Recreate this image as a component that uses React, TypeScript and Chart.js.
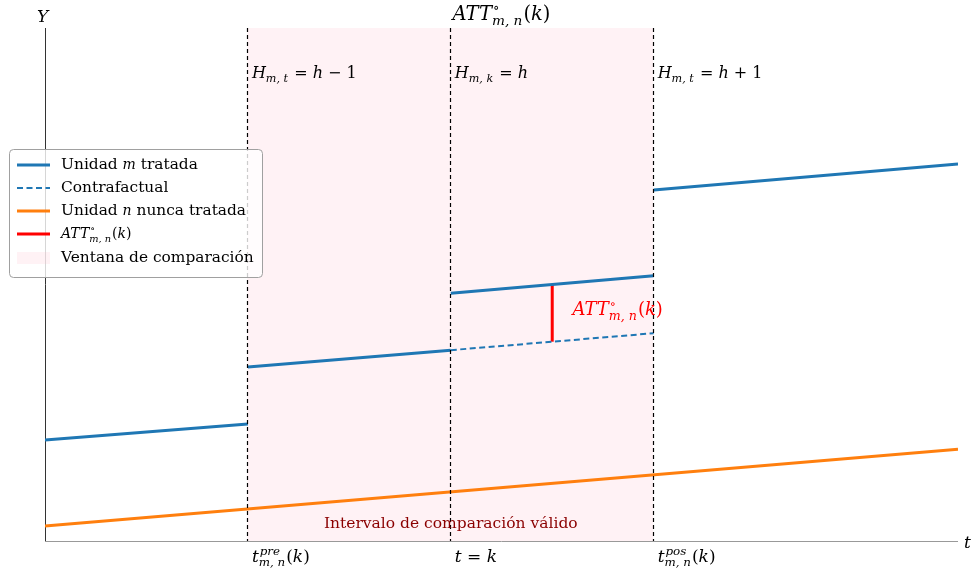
import React, { useEffect, useRef } from 'react';
import { Chart, registerables } from 'chart.js';
Chart.register(...registerables);

// ---- data ----
const xMin = 0;
const xMax = 4.5;
const yMin = 0;
const yMax = 10;
const eventTimes = [1, 2, 3];
const treatedSeg1X = [0, 1];
const treatedSeg1Y = [1.97, 2.28];
const treatedSeg2X = [1, 2];
const treatedSeg2Y = [3.39, 3.72];
const treatedSeg3X = [2, 3];
const treatedSeg3Y = [4.83, 5.17];
const treatedSeg4X = [3, 4.5];
const treatedSeg4Y = [6.84, 7.35];
const counterX = [2, 3];
const counterY = [3.72, 4.05];
const neverX = [0, 4.5];
const neverY = [0.29, 1.79];
const attX = [2.5, 2.5];
const attY = [3.885, 5.0];
const windowRange = [1, 3];

const BLUE = '#1f77b4';
const ORANGE = '#ff7f0e';
const RED = '#ff0000';

type Tok = { t: string; it?: boolean; sup?: string; sub?: string; sit?: boolean };

const FAM = '"DejaVu Serif", serif';
const fnt = (size: number, it?: boolean) => `${it ? 'italic ' : ''}${size}px ${FAM}`;

function measureMath(ctx: CanvasRenderingContext2D, toks: Tok[], size: number) {
  let w = 0;
  for (const tk of toks) {
    ctx.font = fnt(size, tk.it);
    w += ctx.measureText(tk.t).width;
    let sw = 0;
    ctx.font = fnt(size * 0.7, tk.sit);
    if (tk.sup) sw = Math.max(sw, ctx.measureText(tk.sup).width);
    if (tk.sub) sw = Math.max(sw, ctx.measureText(tk.sub).width);
    w += sw + (tk.sup || tk.sub ? 1 : 0);
  }
  return w;
}

function drawMath(ctx: CanvasRenderingContext2D, x: number, y: number, toks: Tok[], size: number, color: string, align: 'left' | 'center' = 'left') {
  ctx.save();
  ctx.fillStyle = color;
  ctx.textAlign = 'left';
  ctx.textBaseline = 'alphabetic';
  let cx = align === 'center' ? x - measureMath(ctx, toks, size) / 2 : x;
  for (const tk of toks) {
    ctx.font = fnt(size, tk.it);
    ctx.fillText(tk.t, cx, y);
    cx += ctx.measureText(tk.t).width;
    let sw = 0;
    ctx.font = fnt(size * 0.7, tk.sit);
    if (tk.sup) {
      ctx.fillText(tk.sup, cx + 1, y - size * 0.42);
      sw = Math.max(sw, ctx.measureText(tk.sup).width);
    }
    if (tk.sub) {
      ctx.fillText(tk.sub, cx, y + size * 0.25);
      sw = Math.max(sw, ctx.measureText(tk.sub).width);
    }
    cx += sw + (tk.sup || tk.sub ? 1 : 0);
  }
  ctx.restore();
}

const attToks: Tok[] = [
  { t: 'ATT', it: true, sup: '∘', sub: 'm, n', sit: true },
  { t: '(' },
  { t: 'k', it: true },
  { t: ')' },
];
const hLabels: Tok[][] = [
  [{ t: 'H', it: true, sub: 'm, t', sit: true }, { t: ' = ' }, { t: 'h', it: true }, { t: ' − 1' }],
  [{ t: 'H', it: true, sub: 'm, k', sit: true }, { t: ' = ' }, { t: 'h', it: true }],
  [{ t: 'H', it: true, sub: 'm, t', sit: true }, { t: ' = ' }, { t: 'h', it: true }, { t: ' + 1' }],
];
const tickLabels: Tok[][] = [
  [{ t: 't', it: true, sup: 'pre', sub: 'm, n', sit: true }, { t: '(' }, { t: 'k', it: true }, { t: ')' }],
  [{ t: 't', it: true }, { t: ' = ' }, { t: 'k', it: true }],
  [{ t: 't', it: true, sup: 'pos', sub: 'm, n', sit: true }, { t: '(' }, { t: 'k', it: true }, { t: ')' }],
];

const pts = (xs: number[], ys: number[]) => xs.map((x, i) => ({ x, y: ys[i] }));

const decor = {
  id: 'decor',
  beforeDatasetsDraw(chart: any) {
    const { ctx, chartArea: a, scales } = chart;
    const xs = scales.x;
    ctx.save();
    const x0 = xs.getPixelForValue(windowRange[0]);
    const x1 = xs.getPixelForValue(windowRange[1]);
    ctx.fillStyle = 'rgba(255,192,203,0.2)';
    ctx.fillRect(x0 - 0.5, a.top, x1 - x0, a.bottom - a.top);
    ctx.lineWidth = 1;
    ctx.strokeStyle = '#333333';
    ctx.beginPath();
    ctx.moveTo(a.left + 0.5, a.top);
    ctx.lineTo(a.left + 0.5, a.bottom);
    ctx.stroke();
    ctx.strokeStyle = '#999999';
    ctx.beginPath();
    ctx.moveTo(a.left, a.bottom + 0.5);
    ctx.lineTo(a.right, a.bottom + 0.5);
    ctx.stroke();
    ctx.restore();
  },
  afterDraw(chart: any) {
    const { ctx, chartArea: a, scales } = chart;
    const xs = scales.x;
    const ys = scales.y;
    ctx.save();
    ctx.strokeStyle = '#000';
    ctx.lineWidth = 1.2;
    ctx.setLineDash([4, 3]);
    for (const t of eventTimes) {
      const px = Math.floor(xs.getPixelForValue(t)) + 0.5;
      ctx.beginPath();
      ctx.moveTo(px, a.top);
      ctx.lineTo(px, a.bottom);
      ctx.stroke();
    }
    ctx.setLineDash([]);
    ctx.restore();

    eventTimes.forEach((t, i) => {
      const px = xs.getPixelForValue(t);
      drawMath(ctx, px + 4, 78, hLabels[i], 16, '#000');
      drawMath(ctx, px + 4, 562, tickLabels[i], 17, '#000');
    });
    drawMath(ctx, (a.left + a.right) / 2, 20, attToks, 19.5, '#000', 'center');
    drawMath(ctx, xs.getPixelForValue(2.6), ys.getPixelForValue(4.4), attToks, 18, RED);
    drawMath(ctx, a.left - 8, 22, [{ t: 'Y', it: true }], 17, '#000');
    drawMath(ctx, a.right + 6, 548, [{ t: 't', it: true }], 17, '#000');

    ctx.save();
    ctx.fillStyle = '#8b0000';
    ctx.font = '15.5px "DejaVu Serif", serif';
    ctx.textAlign = 'center';
    ctx.textBaseline = 'alphabetic';
    ctx.fillText('Intervalo de comparación válido', (xs.getPixelForValue(1) + xs.getPixelForValue(3)) / 2, 528);
    ctx.restore();

    // legend
    ctx.save();
    const lx = 9.5, ly = 149.5, lw = 253, lh = 128, r = 4;
    ctx.beginPath();
    ctx.moveTo(lx + r, ly);
    ctx.arcTo(lx + lw, ly, lx + lw, ly + lh, r);
    ctx.arcTo(lx + lw, ly + lh, lx, ly + lh, r);
    ctx.arcTo(lx, ly + lh, lx, ly, r);
    ctx.arcTo(lx, ly, lx + lw, ly, r);
    ctx.closePath();
    ctx.fillStyle = 'rgba(255,255,255,0.8)';
    ctx.fill();
    ctx.strokeStyle = '#a0a0a0';
    ctx.lineWidth = 1;
    ctx.stroke();
    const rows = [165, 188, 211, 234, 258];
    const hx0 = 17, hx1 = 50, tx = 61;
    const line = (y: number, color: string, w: number, dash: number[]) => {
      ctx.save();
      ctx.strokeStyle = color;
      ctx.lineWidth = w;
      ctx.setLineDash(dash);
      ctx.beginPath();
      ctx.moveTo(hx0, y);
      ctx.lineTo(hx1, y);
      ctx.stroke();
      ctx.restore();
    };
    line(rows[0], BLUE, 3, []);
    line(rows[1], BLUE, 2, [6, 3.5]);
    line(rows[2], ORANGE, 3, []);
    line(rows[3], RED, 3, []);
    ctx.fillStyle = 'rgba(255,192,203,0.2)';
    ctx.fillRect(hx0, rows[4] - 6, hx1 - hx0, 12);
    ctx.fillStyle = '#000';
    ctx.textBaseline = 'middle';
    const seg = (parts: [string, boolean][], y: number) => {
      let cx = tx;
      for (const [s, it] of parts) {
        ctx.font = it ? `italic 14px ${FAM}` : '15.4px "DejaVu Serif", serif';
        ctx.fillText(s, cx, y);
        cx += ctx.measureText(s).width;
      }
    };
    seg([['Unidad ', false], ['m', true], [' tratada', false]], rows[0]);
    seg([['Contrafactual', false]], rows[1]);
    seg([['Unidad ', false], ['n', true], [' nunca tratada', false]], rows[2]);
    drawMath(ctx, tx, rows[3] + 4, attToks, 14, '#000');
    seg([['Ventana de comparación', false]], rows[4]);
    ctx.restore();
  },
};

export default function App() {
  const ref = useRef<HTMLCanvasElement>(null);
  useEffect(() => {
    if (!ref.current) return;
    const mk = (xs: number[], ys: number[], color: string, width: number, dash: number[] = []) => ({
      data: pts(xs, ys),
      showLine: true,
      borderColor: color,
      backgroundColor: color,
      borderWidth: width,
      borderDash: dash,
      pointRadius: 0,
      fill: false,
    });
    const chart = new Chart(ref.current, {
      type: 'scatter',
      data: {
        datasets: [
          mk(neverX, neverY, ORANGE, 3),
          mk(counterX, counterY, BLUE, 2, [6, 3.5]),
          mk(treatedSeg1X, treatedSeg1Y, BLUE, 3),
          mk(treatedSeg2X, treatedSeg2Y, BLUE, 3),
          mk(treatedSeg3X, treatedSeg3Y, BLUE, 3),
          mk(treatedSeg4X, treatedSeg4Y, BLUE, 3),
          mk(attX, attY, RED, 3),
        ] as any,
      },
      options: {
        animation: false,
        responsive: false,
        devicePixelRatio: 1,
        layout: { padding: { left: 45, right: 16, top: 28, bottom: 33 } },
        plugins: { legend: { display: false }, tooltip: { enabled: false } },
        scales: {
          x: { type: 'linear', min: xMin, max: xMax, display: false },
          y: { type: 'linear', min: yMin, max: yMax, display: false },
        },
      },
      plugins: [decor],
    });
    return () => chart.destroy();
  }, []);
  return (
    <div style={{ position: 'fixed', left: 0, top: 0, width: 974, height: 574, background: '#fff' }}>
      <canvas ref={ref} width={974} height={574} />
    </div>
  );
}
